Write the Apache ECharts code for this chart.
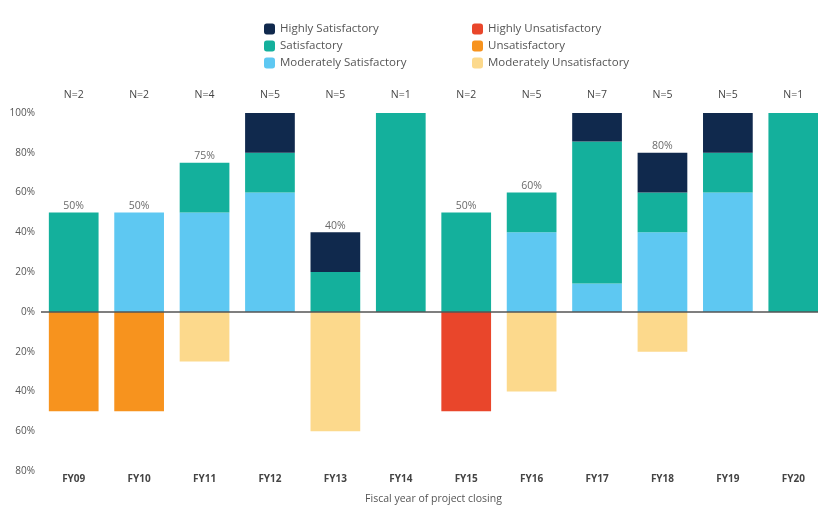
<!DOCTYPE html>
<html>
<head>
<meta charset="utf-8">
<script src="https://cdn.jsdelivr.net/npm/echarts@6/dist/echarts.min.js"></script>
<style>
    html, body { margin: 0; padding: 0; background: #fff; }
    #main { width: 818px; height: 506px; }
</style>
</head>
<body>
<div id="main"></div>
<script>
"use strict";

// 财年
const years = ['FY09', 'FY10', 'FY11', 'FY12', 'FY13', 'FY14', 'FY15', 'FY16', 'FY17', 'FY18', 'FY19', 'FY20'];
// 项目数
const counts = [2, 2, 4, 5, 5, 1, 2, 5, 7, 5, 5, 1];

// 各评级占比 (%)
const modSat = [0, 50, 50, 60, 0, 0, 0, 40, 14.3, 40, 60, 0];
const sat = [50, 0, 25, 20, 20, 100, 50, 20, 71.4, 20, 20, 100];
const highSat = [0, 0, 0, 20, 20, 0, 0, 0, 14.3, 20, 20, 0];
const modUnsat = [0, 0, 25, 0, 60, 0, 0, 40, 0, 20, 0, 0];
const unsat = [50, 50, 0, 0, 0, 0, 0, 0, 0, 0, 0, 0];
const highUnsat = [0, 0, 0, 0, 0, 0, 50, 0, 0, 0, 0, 0];

const colors = {
    highSat: '#10294d',
    sat: '#14b09c',
    modSat: '#5ec8f2',
    highUnsat: '#e9462b',
    unsat: '#f7931e',
    modUnsat: '#fcd98c'
};

const font = '"Open Sans", "Noto Sans", sans-serif';

const chart = echarts.init(document.getElementById('main'));

// 满意部分合计
const totals = years.map((y, i) => Math.round(modSat[i] + sat[i] + highSat[i]));

// 正负同一个堆叠，默认按符号分开累加
const bar = (name, data, color) => ({
    type: 'bar',
    name: name,
    stack: 'all',
    barCategoryGap: '24%',
    itemStyle: { color: color },
    data: data
});

const option = {
    animation: false,
    textStyle: { fontFamily: font },
    // 右侧超出画布，最后一根柱子被截掉一部分
    grid: { left: 41, width: 785, top: 113, bottom: 35, outerBoundsMode: 'none' },
    legend: [{
        orient: 'vertical',
        left: 259,
        top: 18,
        itemWidth: 11,
        itemHeight: 11,
        itemGap: 5,
        textStyle: { fontSize: 11.5, color: '#555', fontFamily: font },
        data: ['Highly Satisfactory', 'Satisfactory', 'Moderately Satisfactory']
    }, {
        orient: 'vertical',
        left: 467,
        top: 18,
        itemWidth: 11,
        itemHeight: 11,
        itemGap: 5,
        textStyle: { fontSize: 11.5, color: '#555', fontFamily: font },
        data: ['Highly Unsatisfactory', 'Unsatisfactory', 'Moderately Unsatisfactory']
    }],
    xAxis: [{
        type: 'category',
        data: years,
        position: 'bottom',
        axisLine: { show: false, onZero: false },
        axisTick: { show: false },
        axisLabel: { margin: 3, fontSize: 10, fontWeight: 'bold', color: '#444' },
        name: 'Fiscal year of project closing',
        nameLocation: 'middle',
        nameGap: 23,
        nameTextStyle: { fontSize: 10.5, color: '#555' }
    }, {
        type: 'category',
        data: counts.map(n => 'N=' + n),
        position: 'top',
        axisLine: { show: false, onZero: false },
        axisTick: { show: false },
        axisLabel: { margin: 12, fontSize: 10.5, color: '#444' }
    }],
    yAxis: {
        type: 'value',
        min: -80,
        max: 100,
        interval: 20,
        splitLine: { show: false },
        axisLine: { show: false },
        axisTick: { show: false },
        axisLabel: {
            fontSize: 10,
            color: '#555',
            margin: 6,
            formatter: v => Math.abs(v) + '%'
        }
    },
    series: [
        bar('Moderately Satisfactory', modSat, colors.modSat),
        bar('Satisfactory', sat, colors.sat),
        Object.assign(bar('Highly Satisfactory', highSat, colors.highSat), {
            markLine: {
                silent: true,
                symbol: 'none',
                label: { show: false },
                lineStyle: { color: '#555', width: 1.5, type: 'solid' },
                data: [{ yAxis: 0 }]
            }
        }),
        bar('Moderately Unsatisfactory', modUnsat.map(v => -v), colors.modUnsat),
        bar('Unsatisfactory', unsat.map(v => -v), colors.unsat),
        bar('Highly Unsatisfactory', highUnsat.map(v => -v), colors.highUnsat),
        {
            // 合计标签
            type: 'scatter',
            symbolSize: 0,
            silent: true,
            data: years.map((y, i) => [y, totals[i]]),
            label: {
                show: true,
                position: 'top',
                distance: 1,
                fontSize: 10.5,
                color: '#444',
                formatter: p => p.value[1] >= 100 ? '' : p.value[1] + '%'
            }
        }
    ]
};
chart.setOption(option);
</script>
</body>
</html>
